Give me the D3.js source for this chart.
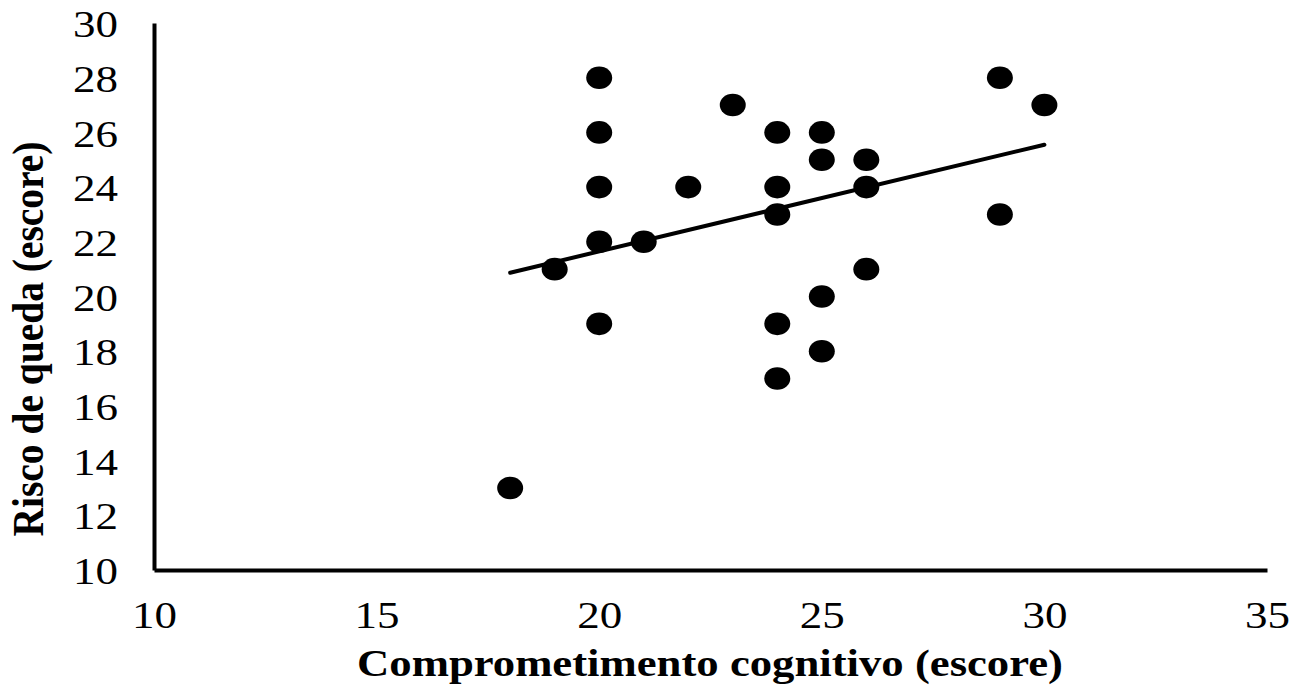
<!DOCTYPE html>
<html>
<head>
<meta charset="utf-8">
<script src="https://cdn.jsdelivr.net/npm/d3@7"></script>
<style>
  body { margin: 0; background: #fff; }
  text { font-family: "Liberation Serif", "Times New Roman", serif; fill: #000; }
</style>
</head>
<body>
<div id="chart"></div>
<script>
// Scatter points (x = cognitive score, y = fall-risk score)
var xValues = [18, 19, 20, 20, 20, 20, 20, 21, 22, 23, 24, 24, 24, 24, 24, 25, 25, 25, 25, 26, 26, 26, 29, 29, 30];
var yValues = [13, 21, 28, 26, 24, 22, 19, 22, 24, 27, 26, 24, 23, 19, 17, 26, 25, 20, 18, 25, 24, 21, 28, 23, 27];

// Linear trend line at its two ends
var trendX = [18, 30];
var trendY = [20.87, 25.55];

var xTicks = [10, 15, 20, 25, 30, 35];
var yTicks = [10, 12, 14, 16, 18, 20, 22, 24, 26, 28, 30];

var xTitle = "Comprometimento cognitivo (escore)";
var yTitle = "Risco de queda (escore)";

var width = 1300, height = 686;

var svg = d3.select("#chart")
  .append("svg")
  .attr("width", width)
  .attr("height", height);

var x = d3.scaleLinear().domain([10, 35]).range([154, 1267]);
var y = d3.scaleLinear().domain([10, 30]).range([570, 23]);

// Axes (no tick marks, thick domain lines)
var gx = svg.append("g")
  .attr("transform", "translate(0," + y(10) + ")")
  .call(d3.axisBottom(x).tickValues(xTicks).tickSize(0).tickSizeOuter(0).tickFormat(d3.format("d")));

gx.selectAll("text")
  .attr("y", 58)
  .attr("dy", 0)
  .style("font-size", "38px")
  .attr("textLength", 45)
  .attr("lengthAdjust", "spacingAndGlyphs");

var gy = svg.append("g")
  .attr("transform", "translate(" + x(10) + ",0)")
  .call(d3.axisLeft(y).tickValues(yTicks).tickSize(0).tickSizeOuter(0).tickFormat(d3.format("d")));

gy.selectAll("text")
  .attr("x", -36)
  .attr("dy", "0.36em")
  .style("font-size", "38px")
  .attr("textLength", 45)
  .attr("lengthAdjust", "spacingAndGlyphs");

svg.selectAll(".domain")
  .attr("stroke", "#000")
  .attr("stroke-width", 4);

// Trend line
var line = d3.line()
  .x(function(d){ return x(d[0]) })
  .y(function(d){ return y(d[1]) });

svg.append("path")
  .datum(d3.zip(trendX, trendY))
  .attr("d", line)
  .attr("fill", "none")
  .attr("stroke", "#000")
  .attr("stroke-width", 4)
  .attr("stroke-linecap", "round");

// Points
svg.append("g")
  .selectAll("ellipse")
  .data(d3.zip(xValues, yValues))
  .enter()
  .append("ellipse")
    .attr("cx", function(d){ return x(d[0]) })
    .attr("cy", function(d){ return y(d[1]) })
    .attr("rx", 13)
    .attr("ry", 11.3)
    .attr("fill", "#000");

// Axis titles
svg.append("text")
  .attr("x", 710)
  .attr("y", 676)
  .attr("text-anchor", "middle")
  .style("font-size", "38px")
  .style("font-weight", "bold")
  .attr("textLength", 706)
  .attr("lengthAdjust", "spacingAndGlyphs")
  .text(xTitle);

svg.append("text")
  .attr("transform", "translate(43,339) scale(1.17,1) rotate(-90)")
  .attr("text-anchor", "middle")
  .style("font-size", "38px")
  .style("font-weight", "bold")
  .attr("textLength", 395)
  .attr("lengthAdjust", "spacingAndGlyphs")
  .text(yTitle);
</script>
</body>
</html>
